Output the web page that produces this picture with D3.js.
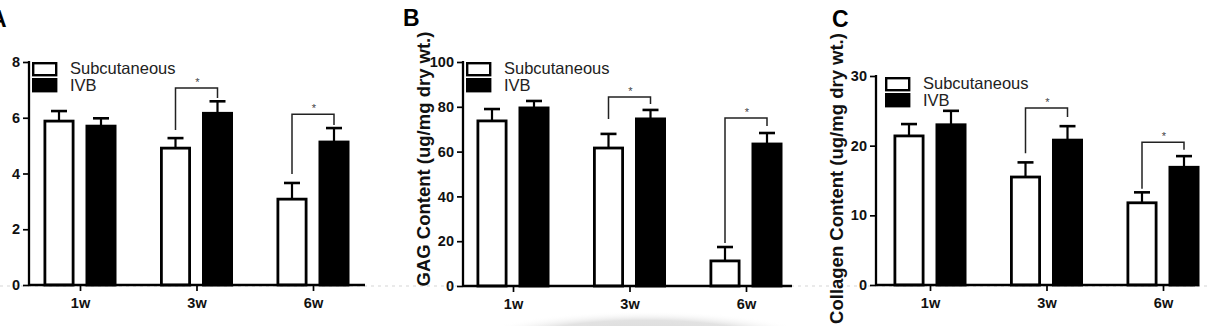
<!DOCTYPE html>
<html>
<head>
<meta charset="utf-8">
<script src="https://cdn.jsdelivr.net/npm/d3@7"></script>
<style>
  body { margin: 0; background: #fff; }
  svg { display: block; font-family: Arial, "Liberation Sans", sans-serif; }
</style>
</head>
<body>
<div id="chart"></div>
<script>
// categories and series
var weeks = ["1w", "3w", "6w"];
var seriesNames = ["Subcutaneous", "IVB"];

// panel A (DNA)
var dnaSub = [5.88, 4.91, 3.08];
var dnaSubErr = [0.36, 0.36, 0.58];
var dnaIvb = [5.70, 6.16, 5.13];
var dnaIvbErr = [0.28, 0.43, 0.50];
var dnaTicks = [0, 2, 4, 6, 8];
// brackets: [week, top, left end, right end]
var dnaBrackets = [["3w", 7.07, 5.56, 6.71], ["6w", 6.13, 3.98, 5.74]];

// panel B (GAG)
var gagSub = [73.7, 61.6, 11.2];
var gagSubErr = [5.3, 6.3, 6.2];
var gagIvb = [79.5, 74.6, 63.4];
var gagIvbErr = [3.1, 4.0, 4.9];
var gagTicks = [0, 20, 40, 60, 80, 100];
var gagBrackets = [["3w", 84.4, 74.6, 81.3], ["6w", 75, 19.2, 71.4]];

// panel C (collagen)
var colSub = [21.4, 15.5, 11.8];
var colSubErr = [1.7, 2.1, 1.5];
var colIvb = [23.0, 20.8, 16.9];
var colIvbErr = [2.0, 2.0, 1.6];
var colTicks = [0, 10, 20, 30];
var colBrackets = [["3w", 25.4, 18.9, 24.1], ["6w", 20.5, 13.8, 19.4]];

var width = 1208, height = 326;

var svg = d3.select("#chart").append("svg")
    .attr("width", width)
    .attr("height", height);

// faint shadow below the middle panel
var defs = svg.append("defs");
var grad = defs.append("radialGradient").attr("id", "shade");
grad.append("stop").attr("offset", "0%").style("stop-color", "#d4d4d4");
grad.append("stop").attr("offset", "70%").style("stop-color", "#e2e2e2");
grad.append("stop").attr("offset", "100%").style("stop-color", "#ffffff").style("stop-opacity", 0);
svg.append("ellipse")
    .attr("cx", 645).attr("cy", 342)
    .attr("rx", 175).attr("ry", 31)
    .style("fill", "url(#shade)");

// faint dotted baseline across the figure
svg.append("line")
    .attr("x1", 0).attr("x2", width)
    .attr("y1", 286).attr("y2", 286)
    .style("stroke", "#e4e4e4")
    .style("stroke-width", 1.5)
    .style("stroke-dasharray", "3,4");

var panels = [
    {letter: "A", label: "DNA Content (ug/mg dry wt.)", left: 29, top: 62, bottom: 285, axisLen: 336,
     first: 51, max: 8, ticks: dnaTicks, sub: dnaSub, subErr: dnaSubErr, ivb: dnaIvb, ivbErr: dnaIvbErr,
     brackets: dnaBrackets, legendX: 32, legendY: 62, letterX: -10, letterY: 27, letterWeight: "bold"},
    {letter: "B", label: "GAG Content (ug/mg dry wt.)", left: 463, top: 62, bottom: 286, axisLen: 329,
     first: 50, max: 100, ticks: gagTicks, sub: gagSub, subErr: gagSubErr, ivb: gagIvb, ivbErr: gagIvbErr,
     brackets: gagBrackets, legendX: 466, legendY: 62, letterX: 403, letterY: 26, letterWeight: "bold"},
    {letter: "C", label: "Collagen Content (ug/mg dry wt.)", left: 876, top: 76, bottom: 285, axisLen: 319,
     first: 54, max: 30, ticks: colTicks, sub: colSub, subErr: colSubErr, ivb: colIvb, ivbErr: colIvbErr,
     brackets: colBrackets, legendX: 885, legendY: 77, letterX: 832, letterY: 27, letterWeight: "600"}
];

panels.forEach(function(p){
    var g = svg.append("g").attr("transform", "translate(" + p.left + ",0)");

    var x = d3.scalePoint().domain(weeks).range([p.first, p.first + 233]);
    var y = d3.scaleLinear().domain([0, p.max]).range([p.bottom, p.top]);
    var barW = 31, offset = 21;

    //panel letter
    svg.append("text")
        .attr("x", p.letterX).attr("y", p.letterY)
        .style("font-size", "23px")
        .style("font-weight", p.letterWeight)
        .style("fill", "#000")
        .text(p.letter);

    //y label
    svg.append("text")
        .attr("transform", "translate(" + (p.left - 33) + "," + ((p.top + p.bottom) / 2 + (p.letter == "C" ? -2 : -15)) + ") rotate(-90)")
        .style("text-anchor", "middle")
        .style("font-size", "18.5px")
        .style("font-weight", "bold")
        .style("fill", "#111")
        .text(p.label);

    var rows = weeks.map(function(w, i){
        return {week: w, sub: p.sub[i], subErr: p.subErr[i], ivb: p.ivb[i], ivbErr: p.ivbErr[i]};
    });

    //error bars (upper only)
    var errs = [];
    rows.forEach(function(d){
        errs.push({cx: x(d.week) - offset, v: d.sub, e: d.subErr});
        errs.push({cx: x(d.week) + offset, v: d.ivb, e: d.ivbErr});
    });
    g.selectAll(".errLine").data(errs).enter().append("line")
        .attr("x1", function(d){ return d.cx; })
        .attr("x2", function(d){ return d.cx; })
        .attr("y1", function(d){ return y(d.v); })
        .attr("y2", function(d){ return y(d.v + d.e); })
        .style("stroke", "#000").style("stroke-width", 2.2);
    g.selectAll(".errCap").data(errs).enter().append("line")
        .attr("x1", function(d){ return d.cx - 8; })
        .attr("x2", function(d){ return d.cx + 8; })
        .attr("y1", function(d){ return y(d.v + d.e); })
        .attr("y2", function(d){ return y(d.v + d.e); })
        .style("stroke", "#000").style("stroke-width", 2.6);

    //bars
    g.selectAll(".subBar").data(rows).enter().append("rect")
        .attr("x", function(d){ return x(d.week) - offset - barW / 2 + 1.4; })
        .attr("y", function(d){ return y(d.sub); })
        .attr("width", barW - 2.8)
        .attr("height", function(d){ return p.bottom - y(d.sub); })
        .style("fill", "#fff")
        .style("stroke", "#000")
        .style("stroke-width", 2.8);
    g.selectAll(".ivbBar").data(rows).enter().append("rect")
        .attr("x", function(d){ return x(d.week) + offset - barW / 2 + 1.4; })
        .attr("y", function(d){ return y(d.ivb); })
        .attr("width", barW - 2.8)
        .attr("height", function(d){ return p.bottom - y(d.ivb); })
        .style("fill", "#000")
        .style("stroke", "#000")
        .style("stroke-width", 2.8);

    //y axis
    var yAxis = g.append("g").call(d3.axisLeft(y).tickValues(p.ticks).tickSize(6).tickPadding(3));
    yAxis.select(".domain").attr("d", "M0," + (p.top - 1) + "V" + p.bottom)
        .style("stroke-width", 2.3);
    yAxis.selectAll(".tick line").style("stroke-width", 1.7);
    yAxis.selectAll("text")
        .style("font-size", "14.5px").style("font-weight", "bold")
        .style("font-family", "Arial, 'Liberation Sans', sans-serif")
        .style("fill", "#111");

    //x axis
    var xAxis = g.append("g").attr("transform", "translate(0," + p.bottom + ")")
        .call(d3.axisBottom(x).tickSize(6).tickPadding(7));
    xAxis.select(".domain").attr("d", "M0,0H" + p.axisLen).style("stroke-width", 2.3);
    xAxis.selectAll(".tick line").style("stroke-width", 1.7);
    xAxis.selectAll("text")
        .style("font-size", "14.5px").style("font-weight", "bold")
        .style("font-family", "Arial, 'Liberation Sans', sans-serif")
        .style("fill", "#111");

    //significance brackets
    p.brackets.forEach(function(b){
        var xl = x(b[0]) - offset, xr = x(b[0]) + offset;
        g.append("path")
            .attr("d", "M" + xl + "," + y(b[2]) + "V" + y(b[1]) + "H" + xr + "V" + y(b[3]))
            .style("fill", "none")
            .style("stroke", "#222")
            .style("stroke-width", 1.5);
        g.append("text")
            .attr("x", x(b[0]) + 1).attr("y", y(b[1]) - 2)
            .style("text-anchor", "middle")
            .style("font-size", "11px")
            .style("fill", "#444")
            .text("*");
    });

    //legend
    var legend = svg.append("g").attr("transform", "translate(" + p.legendX + "," + p.legendY + ")");
    legend.selectAll("rect").data(seriesNames).enter().append("rect")
        .attr("x", 1.2)
        .attr("y", function(d, i){ return 1.2 + i * 16; })
        .attr("width", 23)
        .attr("height", 12)
        .style("fill", function(d, i){ return i == 0 ? "#fff" : "#000"; })
        .style("stroke", "#000")
        .style("stroke-width", 2.4);
    legend.selectAll("text").data(seriesNames).enter().append("text")
        .attr("x", 38)
        .attr("y", function(d, i){ return 12 + i * 17; })
        .style("font-size", "16.5px")
        .style("fill", "#222")
        .text(function(d){ return d; });
});
</script>
</body>
</html>
